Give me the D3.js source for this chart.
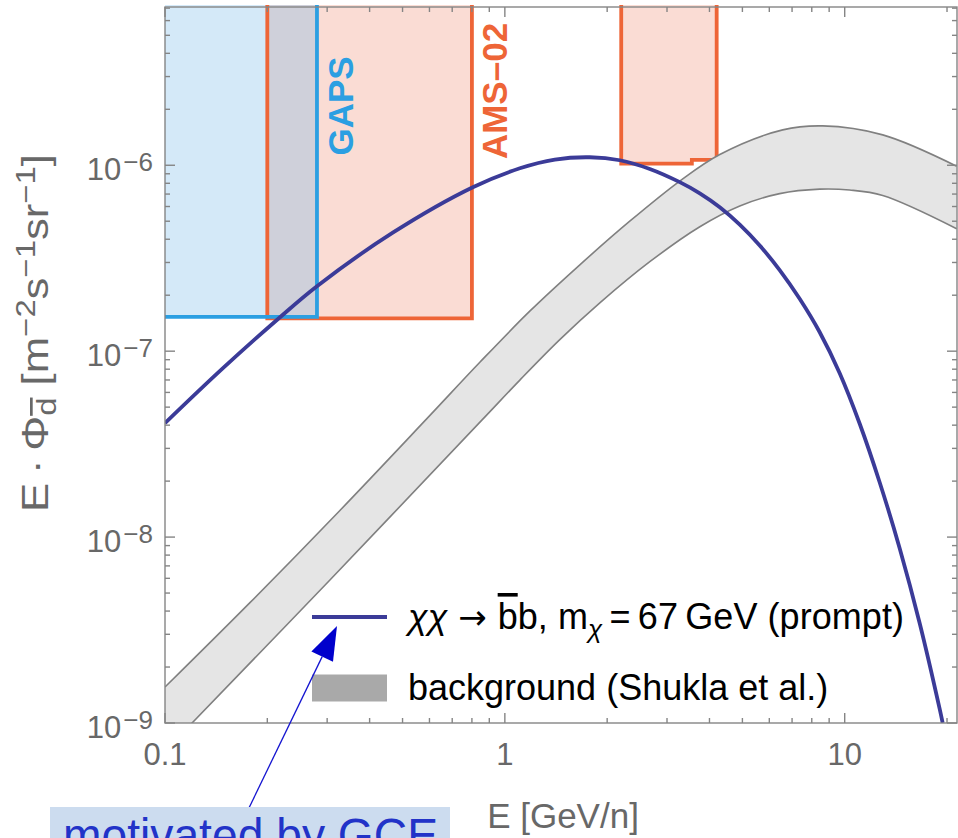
<!DOCTYPE html>
<html>
<head>
<meta charset="utf-8">
<script src="https://cdn.jsdelivr.net/npm/d3@7"></script>
<style>
  html, body { margin: 0; padding: 0; background: #fff; }
  svg { display: block; font-family: "Liberation Sans", Arial, sans-serif; }
</style>
</head>
<body>
<svg id="chart" width="958" height="838"></svg>
<script>
// --- data ---
var signalE    = [0.1, 0.147, 0.218, 0.280, 0.468, 0.805, 1.107, 1.403, 1.778, 2.179, 2.670, 3.271, 3.747, 4.290, 4.912, 5.623, 6.437, 7.370, 8.443, 9.667, 11.07, 12.67, 14.51, 16.62, 19.03, 19.42];
var signalFlux = [4.10e-8, 8.0e-8, 1.523e-7, 2.236e-7, 4.34e-7, 7.62e-7, 9.63e-7, 1.073e-6, 1.104e-6, 1.064e-6, 9.55e-7, 8.11e-7, 7.06e-7, 5.94e-7, 4.79e-7, 3.70e-7, 2.73e-7, 1.913e-7, 1.264e-7, 7.61e-8, 4.07e-8, 1.973e-8, 8.72e-9, 3.44e-9, 1.19e-9, 1.0e-9];

var bgHiE    = [0.1, 0.1778, 0.3271, 0.5896, 0.8441, 1.184, 1.662, 2.331, 3.271, 4.290, 6.571, 8.615, 12.94, 21.35];
var bgHiFlux = [1.561e-9, 4.44e-9, 1.391e-8, 4.336e-8, 8.714e-8, 1.641e-7, 2.914e-7, 5.0e-7, 8.22e-7, 1.143e-6, 1.550e-6, 1.628e-6, 1.457e-6, 9.88e-7];
var bgLoE    = [0.1, 0.1201, 0.3057, 0.8557, 1.107, 1.451, 1.903, 2.670, 3.747, 4.912, 6.437, 8.443, 10.34, 12.94, 21.35];
var bgLoFlux = [7.09e-10, 1.0e-9, 5.88e-9, 4.256e-8, 6.99e-8, 1.153e-7, 1.818e-7, 3.028e-7, 4.67e-7, 6.04e-7, 7.04e-7, 7.44e-7, 7.36e-7, 6.88e-7, 4.56e-7];

// sensitivity boxes: energy edges and the flux floor of each step
var gapsE = [0.09, 0.28];
var gapsFlux = [1.53e-7];
var amsE = [[0.2, 0.8], [2.2, 3.55, 4.2]];
var amsFlux = [[1.5e-7], [1.02e-6, 1.07e-6]];
var boxTop = 1e-5;

var xDomain = [0.1, 21.4];
var yDomain = [1e-9, 7.1e-6];
var xMajor = [0.1, 1, 10];
var xMajorLabels = ["0.1", "1", "10"];
var yMajor = [1e-9, 1e-8, 1e-7, 1e-6];
var yMajorExp = ["\u22129", "\u22128", "\u22127", "\u22126"];

// --- layout ---
var plot = {left: 165, right: 957, top: 7, bottom: 723};

var svg = d3.select("#chart");
var x = d3.scaleLog().domain(xDomain).range([plot.left, plot.right]);
var y = d3.scaleLog().domain(yDomain).range([plot.bottom, plot.top]);

svg.append("defs").append("clipPath").attr("id", "plotclip")
  .append("rect")
  .attr("x", plot.left).attr("y", plot.top - 2)
  .attr("width", plot.right - plot.left).attr("height", plot.bottom - plot.top + 2);

var g = svg.append("g").attr("clip-path", "url(#plotclip)");

function pairs(es, fs){ return es.map(function(e, i){ return [e, fs[i]]; }); }
function stepPoints(es, fs){
  var pts = [[es[0], boxTop]];
  for (var i = 0; i < fs.length; i++) {
    pts.push([es[i], fs[i]]);
    pts.push([es[i + 1], fs[i]]);
  }
  pts.push([es[es.length - 1], boxTop]);
  return pts;
}

var lin = d3.line().x(function(d){ return x(d[0]); }).y(function(d){ return y(d[1]); });
var smooth = d3.line().x(function(d){ return x(d[0]); }).y(function(d){ return y(d[1]); })
  .curve(d3.curveCatmullRom.alpha(0.5));

// AMS-02 boxes
amsE.forEach(function(es, i){
  g.append("path").attr("d", lin(stepPoints(es, amsFlux[i])) + "Z")
    .attr("fill", "#fadcd4").attr("stroke", "none");
});
// GAPS box
g.append("path").attr("d", lin(stepPoints(gapsE, gapsFlux)) + "Z")
  .attr("fill", "#d4e9f8").attr("stroke", "none");
// overlap of GAPS with first AMS box
var ovE = [Math.max(gapsE[0], amsE[0][0]), Math.min(gapsE[1], amsE[0][1])];
var ovF = [Math.max(gapsFlux[0], amsFlux[0][0])];
g.append("path").attr("d", lin(stepPoints(ovE, ovF)) + "Z")
  .attr("fill", "#cfd0da").attr("stroke", "none");

amsE.forEach(function(es, i){
  g.append("path").attr("d", lin(stepPoints(es, amsFlux[i])))
    .attr("fill", "none").attr("stroke", "#ee6537").attr("stroke-width", 3.8);
});
g.append("path").attr("d", lin(stepPoints(gapsE, gapsFlux)))
  .attr("fill", "none").attr("stroke", "#2b9fe2").attr("stroke-width", 3.8);

// background band
var hiPts = pairs(bgHiE, bgHiFlux);
var loPts = pairs(bgLoE, bgLoFlux);
var bandPath = smooth(hiPts) + "L" + smooth(loPts.slice().reverse()).slice(1) + "Z";
g.append("path").attr("d", bandPath).attr("fill", "#e5e5e5").attr("stroke", "none");
[hiPts, loPts].forEach(function(p){
  g.append("path").attr("d", smooth(p)).attr("fill", "none")
    .attr("stroke", "#808080").attr("stroke-width", 1.6);
});

// signal
g.append("path").attr("d", smooth(pairs(signalE, signalFlux)))
  .attr("fill", "none").attr("stroke", "#3b3b98").attr("stroke-width", 3.8);

// experiment labels
svg.append("text").attr("transform", "translate(353,106) rotate(-90)")
  .attr("text-anchor", "middle").attr("font-weight", "bold").attr("font-size", 35)
  .attr("fill", "#2b9fe2").text("GAPS");
svg.append("text").attr("transform", "translate(507,91) rotate(-90)")
  .attr("text-anchor", "middle").attr("font-weight", "bold").attr("font-size", 35)
  .attr("fill", "#ee6537").text("AMS\u201302");

// frame and ticks
var ax = svg.append("g").attr("stroke", "#858585").attr("stroke-width", 1.4).attr("fill", "none");
ax.append("rect").attr("x", plot.left).attr("y", plot.top)
  .attr("width", plot.right - plot.left).attr("height", plot.bottom - plot.top);

var xMinor = x.ticks(30).filter(function(t){ return xMajor.indexOf(t) < 0; });
var yMinor = y.ticks(40).filter(function(t){ return yMajor.indexOf(t) < 0; });

function xTick(v, len){
  ax.append("line").attr("x1", x(v)).attr("x2", x(v)).attr("y1", plot.bottom).attr("y2", plot.bottom - len);
  ax.append("line").attr("x1", x(v)).attr("x2", x(v)).attr("y1", plot.top).attr("y2", plot.top + len);
}
function yTick(v, len){
  ax.append("line").attr("y1", y(v)).attr("y2", y(v)).attr("x1", plot.left).attr("x2", plot.left + len);
  ax.append("line").attr("y1", y(v)).attr("y2", y(v)).attr("x1", plot.right).attr("x2", plot.right - len);
}
xMajor.forEach(function(v){ xTick(v, 10); });
xMinor.forEach(function(v){ xTick(v, 5); });
yMajor.forEach(function(v){ yTick(v, 10); });
yMinor.forEach(function(v){ yTick(v, 5); });

var labelColor = "#686868";
xMajor.forEach(function(v, i){
  svg.append("text").attr("x", x(v)).attr("y", plot.bottom + 42)
    .attr("text-anchor", "middle").attr("font-size", 31).attr("fill", labelColor)
    .text(xMajorLabels[i]);
});
yMajor.forEach(function(v, i){
  var t = svg.append("text").attr("x", plot.left - 12).attr("y", y(v) + 15)
    .attr("text-anchor", "end").attr("font-size", 31).attr("fill", labelColor);
  t.append("tspan").text("10");
  t.append("tspan").attr("dy", -9).attr("font-size", 26).attr("dx", 2).text(yMajorExp[i]);
});

// axis titles
svg.append("text").attr("x", (plot.left + plot.right) / 2 + 2).attr("y", 828)
  .attr("text-anchor", "middle").attr("font-size", 35).attr("fill", labelColor)
  .text("E [GeV/n]");

var yt = svg.append("text").attr("transform", "translate(48,333) rotate(-90)")
  .attr("text-anchor", "middle").attr("font-size", 36).attr("fill", labelColor)
  .attr("textLength", 358).attr("lengthAdjust", "spacingAndGlyphs");
yt.append("tspan").text("E\u2009\u00b7\u2009\u03a6");
yt.append("tspan").attr("dy", 8).attr("font-size", 27).style("text-decoration", "overline").text("d");
yt.append("tspan").attr("dy", -8).text(" [m");
yt.append("tspan").attr("dy", -13).attr("font-size", 27).text("\u22122");
yt.append("tspan").attr("dy", 13).text("s");
yt.append("tspan").attr("dy", -13).attr("font-size", 27).text("\u22121");
yt.append("tspan").attr("dy", 13).text("sr");
yt.append("tspan").attr("dy", -13).attr("font-size", 27).text("\u22121");
yt.append("tspan").attr("dy", 13).text("]");

// legend
var leg = svg.append("g");
var legX = 312, legY = [617, 688], sw = 75;
leg.append("line").attr("x1", legX).attr("x2", legX + sw).attr("y1", legY[0]).attr("y2", legY[0])
  .attr("stroke", "#3b3b98").attr("stroke-width", 4);
leg.append("rect").attr("x", legX).attr("y", legY[1] - 13.5).attr("width", sw).attr("height", 27)
  .attr("fill", "#a9a9a9");

var l1 = leg.append("text").attr("x", legX + 96).attr("y", legY[0] + 12).attr("font-size", 36).attr("fill", "#000")
  .attr("textLength", 496).attr("lengthAdjust", "spacing");
l1.append("tspan").attr("font-style", "italic").text("\u03c7\u03c7");
l1.append("tspan").attr("font-family", "DejaVu Sans").attr("font-size", 34).text(" \u2192 ");
l1.append("tspan").style("text-decoration", "overline").text("b");
l1.append("tspan").text("b, m");
l1.append("tspan").attr("dy", 9).attr("font-size", 26).attr("font-style", "italic").text("\u03c7");
l1.append("tspan").attr("dy", -9).text("\u2009=\u200967\u2009GeV (prompt)");

leg.append("text").attr("x", legX + 96).attr("y", legY[1] + 12).attr("font-size", 36).attr("fill", "#000")
  .text("background (Shukla et al.)");

// annotation pointing at the signal legend entry
var tip = [legX + 25, legY[0] + 9];
var tail = [247, 812];
var ang = Math.atan2(tip[1] - tail[1], tip[0] - tail[0]);
var headLen = 34, headW = 12;
var base = [tip[0] - headLen * Math.cos(ang), tip[1] - headLen * Math.sin(ang)];
svg.append("line").attr("x1", tail[0]).attr("y1", tail[1]).attr("x2", base[0]).attr("y2", base[1])
  .attr("stroke", "#1414d0").attr("stroke-width", 1.3);
svg.append("path")
  .attr("d", "M" + tip + "L" + [base[0] + headW * Math.sin(ang), base[1] - headW * Math.cos(ang)] +
             "L" + [base[0] - headW * Math.sin(ang), base[1] + headW * Math.cos(ang)] + "Z")
  .attr("fill", "#0000cc");

svg.append("rect").attr("x", 50).attr("y", 807).attr("width", 400).attr("height", 40).attr("fill", "#ccdcef");
svg.append("text").attr("x", 63).attr("y", 852).attr("font-size", 48).attr("fill", "#2233c8")
  .attr("textLength", 375).attr("lengthAdjust", "spacingAndGlyphs")
  .text("motivated by GCE");
</script>
</body>
</html>
